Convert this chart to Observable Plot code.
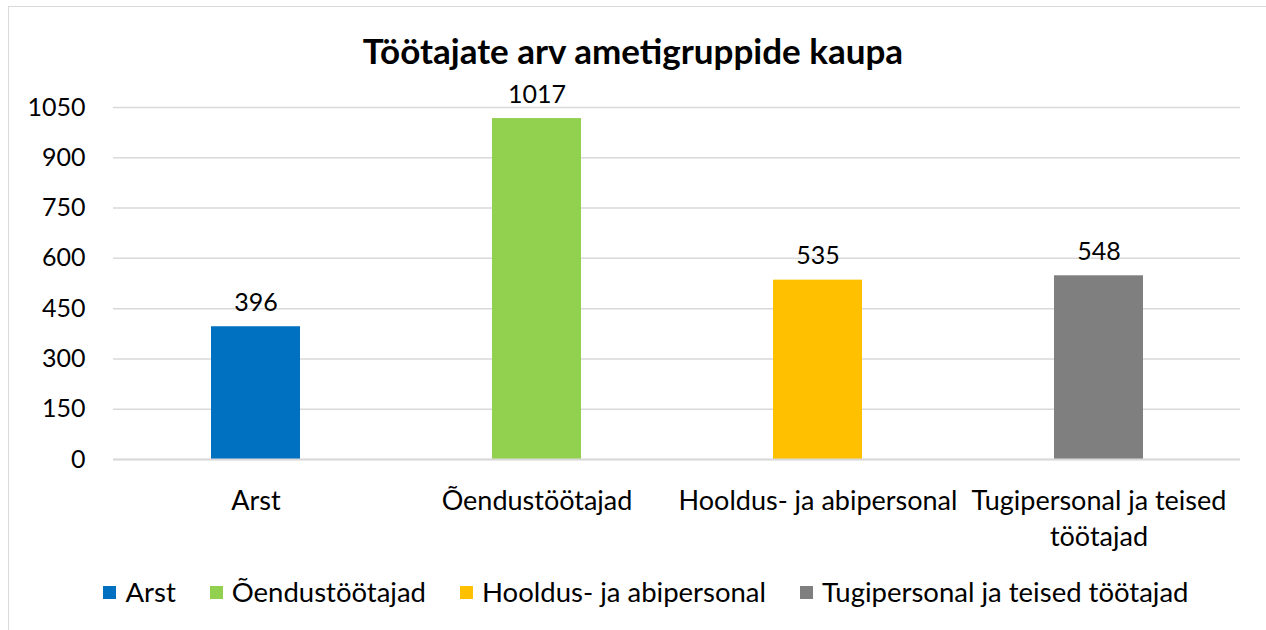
<!DOCTYPE html>
<html>
<head>
<meta charset="utf-8">
<script src="https://cdn.jsdelivr.net/npm/d3@7"></script>
<script src="https://cdn.jsdelivr.net/npm/@observablehq/plot@0.6"></script>
<style>
  html, body { margin: 0; padding: 0; background: #fff; }
  #wrap { position: relative; width: 1266px; height: 630px; overflow: hidden; font-family: Lato, "Noto Sans", sans-serif; color: #000; }
  #frame { position: absolute; left: 8px; top: 6px; width: 1300px; height: 700px; border: 1.5px solid #d9d9d9; box-sizing: border-box; }
  #title { position: absolute; left: 0; top: 30px; width: 1266px; text-align: center; font-weight: bold; font-size: 35px; line-height: 40px; }
  #chart { position: absolute; left: 0; top: 80px; }
  #chart svg { overflow: visible; }
  #legend { position: absolute; left: 0; top: 572px; width: 1266px; display: flex; justify-content: center; font-size: 27.5px; line-height: 40px; padding-left: 26px; box-sizing: border-box; }
  .item { display: flex; align-items: center; margin-right: 34px; }
  .item:last-child { margin-right: 0; }
  .sw { width: 13px; height: 13px; margin-right: 9px; }
</style>
</head>
<body>
<div id="wrap">
  <div id="frame"></div>
  <div id="title"></div>
  <div id="chart"></div>
  <div id="legend"></div>
</div>
<script>
const titleText = "Töötajate arv ametigruppide kaupa";
const categories = ["Arst", "Õendustöötajad", "Hooldus- ja abipersonal", "Tugipersonal ja teised töötajad"];
const values = [396, 1017, 535, 548];
const colors = ["#0070C0", "#92D050", "#FFC000", "#7F7F7F"];
const yTicks = [0, 150, 300, 450, 600, 750, 900, 1050];

const data = categories.map((c, i) => ({category: c, value: values[i]}));
const wrapLabel = d => d === "Tugipersonal ja teised töötajad" ? "Tugipersonal ja teised\ntöötajad" : d;

document.getElementById("title").textContent = titleText;

const chart = Plot.plot({
  width: 1266,
  height: 480,
  marginTop: 27,
  marginBottom: 101,
  marginLeft: 113,
  marginRight: 26,
  style: {fontFamily: "Lato, 'Noto Sans', sans-serif", fontSize: "25px", color: "#000", background: "transparent"},
  x: {domain: categories, paddingInner: 0.684, paddingOuter: 0.342, label: null},
  y: {domain: [0, 1050], label: null},
  color: {domain: categories, range: colors},
  marks: [
    Plot.gridY(yTicks, {stroke: "#d9d9d9", strokeOpacity: 1, strokeWidth: 1.5}),
    Plot.barY(data, {x: "category", y: "value", fill: "category"}),
    Plot.ruleY([0], {stroke: "#d9d9d9", strokeWidth: 2}),
    Plot.axisY({ticks: yTicks, tickSize: 0, tickPadding: 28, fontSize: 25, fill: "#000", tickFormat: d => String(d), label: null}),
    Plot.axisX({tickSize: 0, tickPadding: 26, fontSize: 27, fill: "#000", lineHeight: 1.3, tickFormat: wrapLabel, label: null}),
    Plot.text(data, {x: "category", y: "value", text: d => String(d.value), lineAnchor: "bottom", dy: -16, fontSize: 25, fill: "#000"})
  ]
});
document.getElementById("chart").appendChild(chart);

const legend = document.getElementById("legend");
categories.forEach((c, i) => {
  const item = document.createElement("div");
  item.className = "item";
  const sw = document.createElement("span");
  sw.className = "sw";
  sw.style.background = colors[i];
  const label = document.createElement("span");
  label.textContent = c;
  item.appendChild(sw);
  item.appendChild(label);
  legend.appendChild(item);
});
</script>
</body>
</html>
